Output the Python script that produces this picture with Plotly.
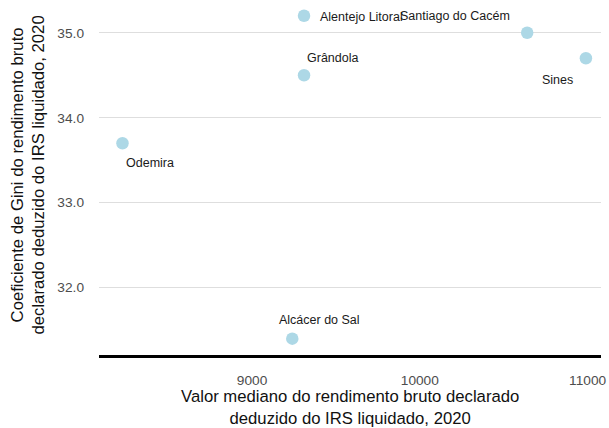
import plotly.graph_objects as go

municipios = ["Odemira", "Alcácer do Sal", "Grândola", "Alentejo Litoral", "Santiago do Cacém", "Sines"]
rendimento = [8228, 9240, 9310, 9310, 10640, 10990]
gini = [33.7, 31.4, 34.5, 35.2, 35.0, 34.7]

x_title = "Valor mediano do rendimento bruto declarado<br>deduzido do IRS liquidado, 2020"
y_title = "Coeficiente de Gini do rendimento bruto<br>declarado deduzido do IRS liquidado, 2020"

# label placement (pixel offsets, anchor)
label_pos = {
    "Odemira": (2, -20, "left"),
    "Alcácer do Sal": (-15, 18.5, "left"),
    "Grândola": (1, 17.5, "left"),
    "Alentejo Litoral": (14, -1, "left"),
    "Santiago do Cacém": (-15, 16.5, "right"),
    "Sines": (-11, -21.5, "right"),
}

FONT = "Liberation Sans, Arial, sans-serif"

fig = go.Figure()
fig.add_trace(go.Scatter(
    x=rendimento, y=gini, mode="markers",
    marker=dict(size=12.5, color="#ADD8E6"),
    cliponaxis=False, showlegend=False, hoverinfo="text", text=municipios,
))

for name, xv, yv in zip(municipios, rendimento, gini):
    xs, ys, anc = label_pos[name]
    fig.add_annotation(x=xv, y=yv, text=name, showarrow=False,
                       xshift=xs, yshift=ys, xanchor=anc, yanchor="middle",
                       font=dict(size=12.5, color="#1a1a1a", family=FONT))

# axis titles as paper annotations
fig.add_annotation(xref="paper", yref="paper", x=0.5, y=0, yshift=-30,
                   xanchor="center", yanchor="top", text=x_title, showarrow=False,
                   font=dict(size=16.7, color="#111", family=FONT))
fig.add_annotation(xref="paper", yref="paper", x=0, y=0.5, xshift=-71, yshift=2,
                   xanchor="center", yanchor="middle", textangle=-90, text=y_title,
                   showarrow=False, font=dict(size=16.7, color="#111", family=FONT))

fig.update_layout(
    width=609, height=428,
    margin=dict(l=99, r=8, t=0, b=73, autoexpand=False),
    plot_bgcolor="white", paper_bgcolor="white",
    font=dict(family=FONT, color="#222"),
)
fig.update_xaxes(
    range=[8088, 11080], tickvals=[9000, 10000, 11000], ticktext=["9000", "10000", "11000"],
    showgrid=False, zeroline=False, automargin=False,
    showline=True, linecolor="black", linewidth=3,
    ticks="", ticklabelstandoff=11,
    tickfont=dict(size=13.7, color="#4d4d4d", family=FONT),
)
fig.update_yaxes(
    range=[31.208, 35.385], tickvals=[32, 33, 34, 35], ticktext=["32.0", "33.0", "34.0", "35.0"],
    showgrid=True, gridcolor="#DEDEDE", gridwidth=1, zeroline=False, automargin=False,
    showline=False, ticks="", ticklabelstandoff=14,
    tickfont=dict(size=13.7, color="#4d4d4d", family=FONT),
)

fig.write_html("out.html", config={"displayModeBar": False},
               post_script="document.body.style.margin='0';")
